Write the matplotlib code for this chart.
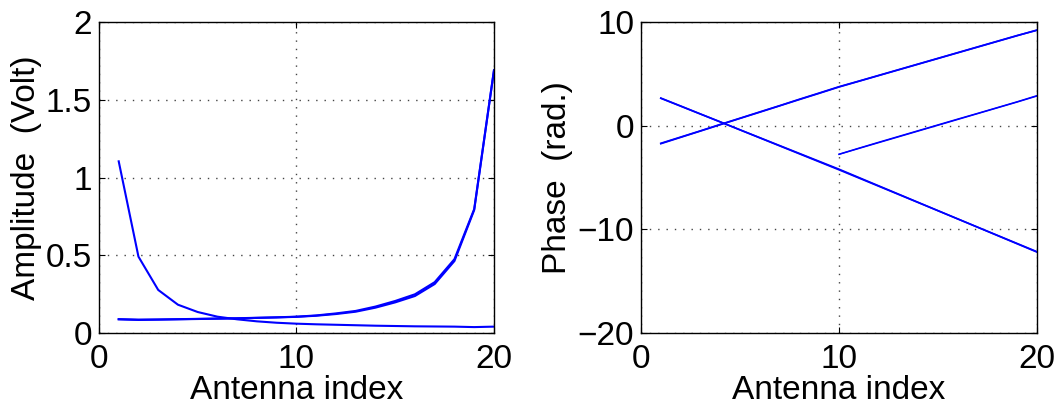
import numpy as np
import matplotlib
matplotlib.use("Agg")
import matplotlib.pyplot as plt

# antenna index
idx = np.arange(1, 21)

# amplitude curves (Volt)
amp_a = [1.104, 0.491, 0.277, 0.182, 0.135, 0.105, 0.088, 0.075, 0.066, 0.060,
         0.056, 0.053, 0.050, 0.047, 0.045, 0.043, 0.042, 0.041, 0.038, 0.041]
amp_b = [0.088, 0.084, 0.086, 0.088, 0.090, 0.092, 0.094, 0.097, 0.100, 0.104,
         0.111, 0.122, 0.137, 0.163, 0.197, 0.238, 0.315, 0.463, 0.791, 1.687]
amp_c = [0.089, 0.086, 0.087, 0.089, 0.091, 0.093, 0.095, 0.098, 0.101, 0.105,
         0.113, 0.126, 0.142, 0.170, 0.206, 0.249, 0.327, 0.475, 0.797, 1.690]

# phase curves (rad.)
ph_dec = [2.64, 1.88, 1.12, 0.36, -0.40, -1.16, -1.92, -2.68, -3.44, -4.20,
          -5.00, -5.80, -6.60, -7.40, -8.20, -9.00, -9.80, -10.60, -11.40, -12.20]
ph_dec2 = [2.66, 1.90, 1.13, 0.37, -0.41, -1.18, -1.95, -2.72, -3.49, -4.26,
           -5.05, -5.84, -6.63, -7.42, -8.21, -9.00, -9.79, -10.58, -11.37, -12.16]
ph_inc = [-1.74, -1.13, -0.52, 0.09, 0.70, 1.30, 1.91, 2.52, 3.12, 3.73,
          4.28, 4.83, 5.38, 5.93, 6.48, 7.03, 7.58, 8.13, 8.68, 9.23]
ph_inc2 = [-1.70, -1.10, -0.50, 0.12, 0.72, 1.33, 1.93, 2.55, 3.15, 3.76,
           4.30, 4.85, 5.40, 5.95, 6.50, 7.05, 7.60, 8.15, 8.70, 9.20]
idx_wrap = np.arange(10, 21)
ph_wrap = [-2.77, -2.20, -1.64, -1.08, -0.52, 0.04, 0.60, 1.16, 1.72, 2.28, 2.86]
ph_wrap2 = [-2.75, -2.17, -1.60, -1.04, -0.48, 0.08, 0.64, 1.19, 1.75, 2.31, 2.90]

plt.rcParams['font.family'] = ['Liberation Sans', 'DejaVu Sans']
plt.rcParams['font.size'] = 24

fig = plt.figure(figsize=(10.55, 4.08), dpi=100)
ax1 = fig.add_axes([0.0938, 0.1838, 0.3744, 0.7623])
ax2 = fig.add_axes([0.6076, 0.1838, 0.3754, 0.7623])

for y in (amp_a, amp_b, amp_c):
    ax1.plot(idx, y, color='#0000ff', lw=1.5)
for y in (ph_dec, ph_dec2, ph_inc, ph_inc2):
    ax2.plot(idx, y, color='#0000ff', lw=1.2)
for y in (ph_wrap, ph_wrap2):
    ax2.plot(idx_wrap, y, color='#0000ff', lw=1.0)

ax1.set_xlim(0, 20)
ax1.set_ylim(0, 2)
ax1.set_xticks([0, 10, 20])
ax1.set_yticks([0, 0.5, 1, 1.5, 2])
ax1.set_yticklabels(['0', '0.5', '1', '1.5', '2'])
ax1.set_xlabel('Antenna index')
ax1.set_ylabel('Amplitude  (Volt)')

ax2.set_xlim(0, 20)
ax2.set_ylim(-20, 10)
ax2.set_xticks([0, 10, 20])
ax2.set_yticks([-20, -10, 0, 10])
ax2.set_xlabel('Antenna index')
ax2.set_ylabel('Phase  (rad.)')

for ax in (ax1, ax2):
    ax.grid(True, color='#444444', linestyle=(0, (1, 5)), linewidth=1.0)
    ax.tick_params(direction='in', top=True, right=True, length=4, width=0.8)
    ax.tick_params(axis='x', pad=8)
    ax.tick_params(axis='y', pad=5)
    ax.xaxis.labelpad = 0
    ax.yaxis.labelpad = 3
    for s in ax.spines.values():
        s.set_linewidth(1.0)

fig.savefig('out.png', dpi=100)
